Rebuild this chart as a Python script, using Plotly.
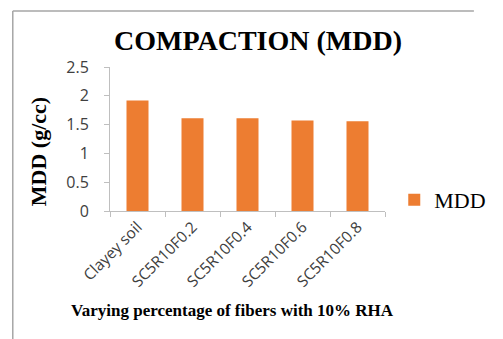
import plotly.graph_objects as go

categories = ["Clayey soil", "SC5R10F0.2", "SC5R10F0.4", "SC5R10F0.6", "SC5R10F0.8"]
mdd_values = [1.92, 1.61, 1.61, 1.57, 1.56]
y_ticks = [0, 0.5, 1, 1.5, 2, 2.5]
y_tick_labels = ["0", "0.5", "1", "1.5", "2", "2.5"]

W, H = 503, 339
ML, MR, MT, MB = 110, 96, 67, 128
plot_w = W - ML - MR
plot_h = H - MT - MB

serif = "Liberation Serif, Times New Roman, serif"
sans = "Open Sans, Liberation Sans, Arial, sans-serif"
axis_grey = "#BFBFBF"


def px_to_paper_x(px):
    return (px - ML) / plot_w


def px_to_paper_y(py):
    return (H - MB - py) / plot_h


fig = go.Figure(
    go.Bar(
        x=categories,
        y=mdd_values,
        name="MDD",
        marker=dict(color="#ED7D31", line=dict(width=0)),
    )
)

fig.update_layout(
    width=W,
    height=H,
    margin=dict(l=ML, r=MR, t=MT, b=MB),
    paper_bgcolor="white",
    plot_bgcolor="white",
    bargap=0.6,
    showlegend=True,
    title=dict(
        text="<b>COMPACTION (MDD)</b>",
        font=dict(family=serif, size=28, color="black"),
        x=258 / W,
        xanchor="center",
        y=1 - 40 / H,
        yanchor="middle",
    ),
    legend=dict(
        x=px_to_paper_x(417),
        xanchor="left",
        y=px_to_paper_y(200),
        yanchor="middle",
        font=dict(family=serif, size=22, color="black"),
        bgcolor="rgba(0,0,0,0)",
        itemwidth=30,
    ),
    xaxis=dict(
        showline=True,
        linecolor=axis_grey,
        linewidth=1,
        ticks="outside",
        tickcolor=axis_grey,
        ticklen=5,
        tickson="boundaries",
        tickangle=-45,
        tickfont=dict(family=sans, size=15.5, color="#404040"),
        showgrid=False,
    ),
    yaxis=dict(
        range=[0, 2.5],
        tickvals=y_ticks,
        ticktext=y_tick_labels,
        showline=True,
        linecolor=axis_grey,
        linewidth=1,
        ticks="outside",
        tickcolor=axis_grey,
        ticklen=5,
        ticklabelstandoff=12,
        tickfont=dict(family=sans, size=16, color="#404040"),
        showgrid=False,
        zeroline=False,
    ),
)

# Axis titles
fig.add_annotation(
    text="<b>MDD (g/cc)</b>", textangle=-90, showarrow=False,
    xref="paper", yref="paper",
    x=px_to_paper_x(33), y=px_to_paper_y(151.5),
    xanchor="center", yanchor="middle",
    font=dict(family=serif, size=22, color="black"),
)
fig.add_annotation(
    text="<b>Varying percentage of fibers with 10% RHA</b>", showarrow=False,
    xref="paper", yref="paper",
    x=px_to_paper_x(242), y=px_to_paper_y(310),
    xanchor="center", yanchor="middle",
    font=dict(family=serif, size=17, color="black"),
)

# Chart-area frame: top and left edges
x_left = px_to_paper_x(5)
y_top = px_to_paper_y(11)
y_bot = px_to_paper_y(H)
fig.add_shape(type="line", xref="paper", yref="paper",
              x0=x_left, x1=px_to_paper_x(W), y0=y_top, y1=y_top,
              line=dict(color="#A6A6A6", width=1.5))
fig.add_shape(type="line", xref="paper", yref="paper",
              x0=x_left, x1=x_left, y0=y_top, y1=y_bot,
              line=dict(color="#A6A6A6", width=1.5))

fig.write_html("out.html")
